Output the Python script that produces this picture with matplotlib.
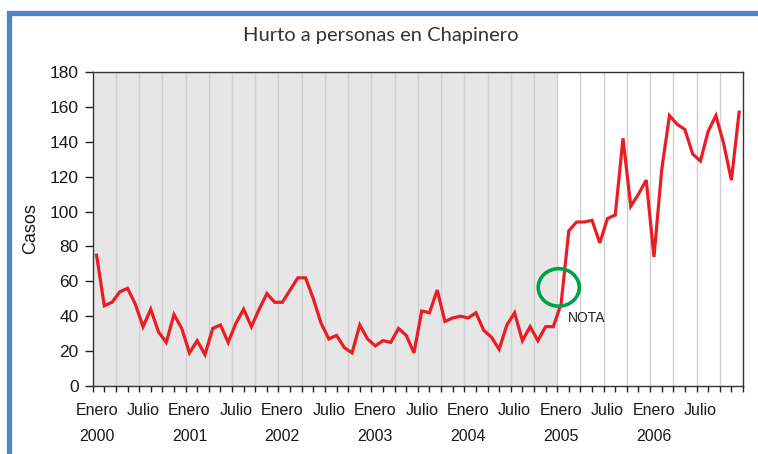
import matplotlib
matplotlib.use("Agg")
import matplotlib.pyplot as plt
from matplotlib.lines import Line2D
from matplotlib.patches import Ellipse

# monthly cases, Jan 2000 .. Dec 2006
casos = [
    75, 46, 48, 54, 56, 47, 34, 44, 31, 25, 41, 33,      # 2000
    19, 26, 18, 33, 35, 25, 36, 44, 34, 44, 53, 48,      # 2001
    48, 55, 62, 62, 50, 36, 27, 29, 22, 19, 35, 27,      # 2002
    23, 26, 25, 33, 29, 19, 43, 42, 55, 37, 39, 40,      # 2003
    39, 42, 32, 28, 21, 35, 42, 26, 34, 26, 34, 34,      # 2004
    47, 89, 94, 94, 95, 82, 96, 98, 142, 103, 110, 118,  # 2005
    74, 124, 155, 150, 147, 133, 129, 146, 155, 139, 118, 157,  # 2006
]
years = ["2000", "2001", "2002", "2003", "2004", "2005", "2006"]
title = "Hurto a personas en Chapinero"
y_ticks = [0, 20, 40, 60, 80, 100, 120, 140, 160, 180]
n_shaded = 60   # months before the note (Jan 2005)

plt.rcParams["font.family"] = ["Liberation Sans", "DejaVu Sans"]

W, H = 758, 454
fig = plt.figure(figsize=(W / 100, H / 100), dpi=100)
ax = fig.add_axes([92.7 / W, 1 - 386 / H, (743 - 92.7) / W, (386 - 72) / H])

n = len(casos)
xs = [i + 0.5 for i in range(n)]

ax.axvspan(0, n_shaded, color="#e6e6e6", zorder=0, lw=0)
for g in range(3, n, 3):
    ax.axvline(g, color="#cfcfcf", lw=1, zorder=1)

ax.plot(xs, casos, color="#ec1c24", lw=2.3, zorder=3, solid_joinstyle="miter")

# note marker
ax.add_patch(Ellipse((60.2, 56.5), 5.3, 21.5, angle=0, fill=False,
                     edgecolor="#00a14b", lw=2.6, zorder=4))
ax.text(61.4, 39, "NOTA", fontsize=10, color="#222222",
        va="center", ha="left", zorder=4)

ax.set_xlim(0, n)
ax.set_ylim(0, 180)
ax.set_yticks(y_ticks)
ax.set_xticks([i * 1.5 for i in range(57)])
ax.set_xticklabels([])
ax.tick_params(axis="x", which="major", length=4, width=1, color="#222222")
ax.tick_params(axis="y", length=6, width=1, color="#222222", pad=4,
               labelsize=12.5, labelcolor="#1a1a1a")

lab_pos, lab_txt = [], []
for k, yr in enumerate(years):
    lab_pos.append(k * 12 + 0.5)
    lab_txt.append("Enero\n" + yr)
    lab_pos.append(k * 12 + 6.5)
    lab_txt.append("Julio")
ax.set_xticks(lab_pos, minor=True)
ax.set_xticklabels(lab_txt, minor=True, fontsize=11.5, color="#1a1a1a",
                   linespacing=1.95)
ax.tick_params(axis="x", which="minor", length=0, pad=12)

for s in ax.spines.values():
    s.set_color("#333333")
    s.set_linewidth(1)

ax.set_ylabel("Casos", fontsize=13, color="#1a1a1a", labelpad=8)

fig.text(381 / W, 1 - 35 / H, title, ha="center", va="center",
         fontsize=14.5, family="Lato", color="#333333")

# blue frame at top and left
fx, fy = 9 / W, 1 - 13 / H
fig.add_artist(Line2D([fx, fx, 1.01], [-0.01, fy, fy], transform=fig.transFigure,
                      color="#4f86c6", lw=3.8, solid_joinstyle="miter"))

fig.savefig("out.png", dpi=100)
